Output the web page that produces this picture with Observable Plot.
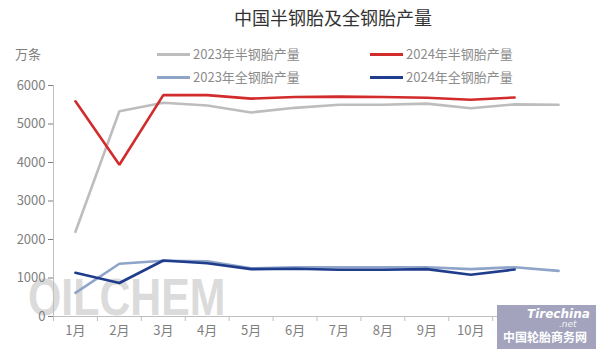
<!DOCTYPE html>
<html><head><meta charset="utf-8">
<script src="https://cdn.jsdelivr.net/npm/d3@7"></script>
<script src="https://cdn.jsdelivr.net/npm/@observablehq/plot@0.6"></script>
<style>
body{margin:0;background:#fff;font-family:"Noto Sans CJK SC",sans-serif;}
#wrap{position:relative;width:600px;height:352px;overflow:hidden;background:#fff;}
#wm{position:absolute;left:28px;top:268px;font-family:"Liberation Sans Narrow","Liberation Sans",sans-serif;font-weight:bold;font-size:51px;line-height:60px;color:#cfcfcf;opacity:.75;transform:scaleX(0.84);transform-origin:0 0;}
#chart{position:absolute;left:0;top:0;}
#title{position:absolute;left:133px;width:400px;top:4px;text-align:center;font-size:18px;color:#333;line-height:26px;}
#unit{position:absolute;left:15px;top:45px;font-size:13px;color:#7f7f7f;line-height:18px;}
.leg{position:absolute;font-size:13px;color:#8c8c8c;line-height:18px;white-space:nowrap;}
.sw{position:absolute;height:3px;width:33px;}
#logo{position:absolute;left:497px;top:305px;width:99px;height:44px;background:#a3a3bd;color:#fff;}
#logo .t1{position:absolute;left:30px;top:2px;font-style:italic;font-weight:bold;font-size:12px;font-family:"DejaVu Sans",sans-serif;color:#fff;}
#logo .t2{position:absolute;left:62px;top:14px;font-style:italic;font-size:9px;font-family:"DejaVu Sans",sans-serif;color:#f2f2f2;}
#logo .t3{position:absolute;left:6px;top:24px;font-weight:bold;font-size:12px;line-height:16px;color:#fff;}
</style></head><body>
<div id="wrap">
  <div id="wm">OILCHEM</div>
  <div id="chart"></div>
  <div id="title">中国半钢胎及全钢胎产量</div>
  <div id="unit">万条</div>
  <div id="legend"></div>
  <div id="logo"><span class="t1">Tirechina</span><span class="t2">.net</span><span class="t3">中国轮胎商务网</span></div>
</div>
<script>
const months = ["1月","2月","3月","4月","5月","6月","7月","8月","9月","10月","11月","12月"];
const yTicks = [0,1000,2000,3000,4000,5000,6000];
const seriesNames = ["2023年半钢胎产量","2024年半钢胎产量","2023年全钢胎产量","2024年全钢胎产量"];
const seriesColors = ["#bdbdbd","#d22b2b","#8ea4c8","#1f3d8c"];
const semi2023 = [2200,5330,5550,5480,5300,5420,5500,5500,5530,5410,5510,5500];
const semi2024 = [5590,3940,5750,5750,5660,5700,5710,5700,5680,5630,5690];
const all2023  = [615,1370,1450,1435,1250,1280,1280,1280,1280,1230,1280,1185];
const all2024  = [1135,870,1455,1385,1230,1240,1215,1215,1230,1085,1220];

const seriesValues = [semi2023, semi2024, all2023, all2024];
const tables = seriesValues.map((vals, k) => vals.map((v, i) => ({s: seriesNames[k], m: i + 1, v})));
const bounds = d3.range(0, months.length + 1).map(i => i + 0.5);
const drawOrder = [0, 2, 1, 3];

const plot = Plot.plot({
  width: 600, height: 352,
  marginTop: 85, marginBottom: 36, marginLeft: 53, marginRight: 20,
  style: {fontFamily: '"Noto Sans CJK SC", sans-serif', fontSize: "13px", color: "#7f7f7f", background: "transparent"},
  x: {domain: [0.5, months.length + 0.5], ticks: months.map((m, i) => i + 1), tickFormat: d => months[d - 1], tickSize: 0, tickPadding: 9, label: null},
  y: {domain: [0, 6000], ticks: yTicks, tickFormat: d => String(d), tickSize: 5, tickPadding: 3, label: null},
  color: {domain: seriesNames, range: seriesColors},
  marks: [
    Plot.ruleY([0], {stroke: "#bfbfbf"}),
    Plot.ruleX([bounds[0]], {stroke: "#bfbfbf"}),
    Plot.ruleX(bounds, {x: d => d, y1: () => 0, insetBottom: -5, stroke: "#bfbfbf"}),
    ...drawOrder.map(k => Plot.line(tables[k], {x: "m", y: "v", stroke: "s", strokeWidth: 2.6, strokeLinejoin: "miter"}))
  ]
});
document.getElementById("chart").appendChild(plot);

const legend = document.getElementById("legend");
const legPos = [[157, 54], [370, 54], [157, 77], [370, 77]];
seriesNames.forEach((name, k) => {
  const [x, y] = legPos[k];
  const sw = document.createElement("div");
  sw.className = "sw";
  sw.style.left = x + "px"; sw.style.top = (y - 1.5) + "px"; sw.style.background = seriesColors[k];
  legend.appendChild(sw);
  const t = document.createElement("div");
  t.className = "leg";
  t.style.left = (x + 36) + "px"; t.style.top = (y - 9) + "px";
  t.textContent = name;
  legend.appendChild(t);
});
</script>
</body></html>
